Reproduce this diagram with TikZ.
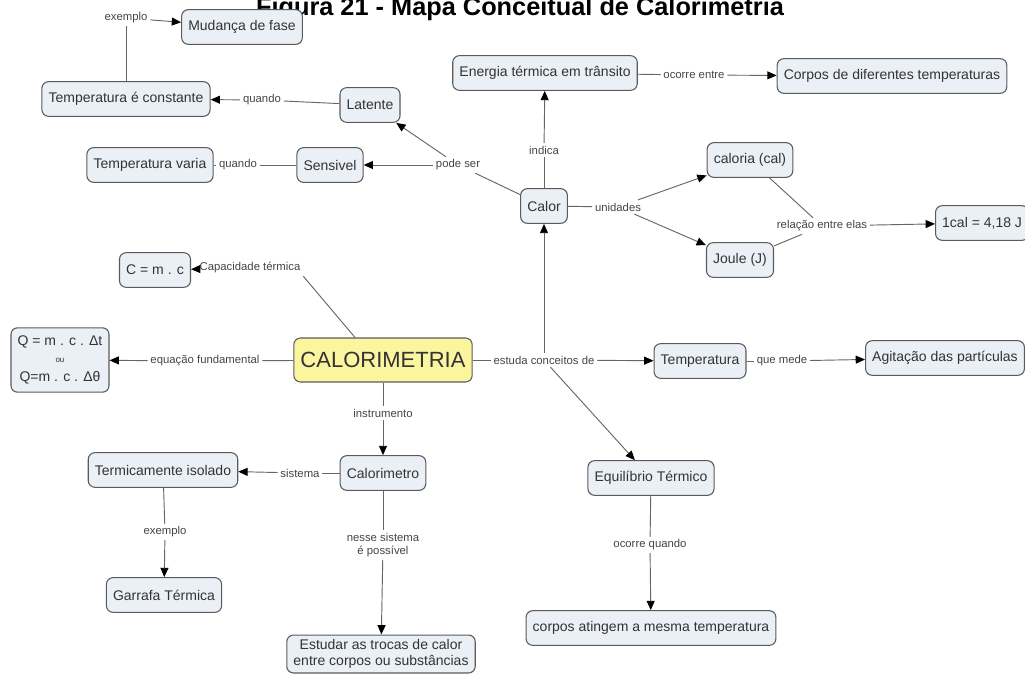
\documentclass[tikz,border=0pt]{standalone}
\usepackage{fontspec}
\setmainfont{Liberation Sans}
\usetikzlibrary{arrows.meta}

\begin{document}
\begin{tikzpicture}[x=0.75pt, y=-0.75pt,
    concept/.style={draw=borderColour, fill=fillColour, rounded corners=5pt, line width=0.8pt,
        font=\fontsize{10.5}{12}\selectfont, text=textColour, inner xsep=5pt, minimum height=26pt},
    linkword/.style={font=\fontsize{8.5}{10}\selectfont, text=linkColour, inner sep=2pt},
    link/.style={draw=lineColour, line width=0.7pt},
    linkarrow/.style={link, -{Triangle[length=7pt, width=6pt, color=black]}}]

    \definecolor{borderColour}{HTML}{5A5A5A}
    \definecolor{fillColour}{HTML}{EBF0F6}
    \definecolor{mainColour}{HTML}{FAF59E}
    \definecolor{textColour}{HTML}{333333}
    \definecolor{linkColour}{HTML}{444444}
    \definecolor{lineColour}{HTML}{666666}

    \useasboundingbox (0,0) rectangle (1025,678);

    % Title (cut at the top)
    \node[font=\bfseries\fontsize{19}{22}\selectfont, anchor=base, inner sep=0pt] (title) at (520,15) {Figura 21 - Mapa Conceitual de Calorimetria};

    % Concepts
    \node[concept] (mudanca) at (242,27) {Mudança de fase};
    \node[concept] (tconst) at (126,99) {Temperatura é constante};
    \node[concept] (latente) at (370,105) {Latente};
    \node[concept] (tvaria) at (150,165) {Temperatura varia};
    \node[concept] (sensivel) at (330,165) {Sensivel};
    \node[concept] (energia) at (545,73) {Energia térmica em trânsito};
    \node[concept] (corpos) at (892,76) {Corpos de diferentes temperaturas};
    \node[concept] (calor) at (544,206) {Calor};
    \node[concept] (caloria) at (750,160) {caloria (cal)};
    \node[concept] (joule) at (740,260) {Joule (J)};
    \node[concept, anchor=west] (relacao) at (935,223) {1cal = 4,18 J};
    \node[concept] (cmc) at (155,270) {C = m . c};
    \node[concept, fill=mainColour, font=\fontsize{16.5}{18}\selectfont, minimum height=33pt] (calorim) at (383,360) {CALORIMETRIA};
    \node[concept, align=center, inner ysep=6pt] (qbox) at (60,360) {Q = m . c . Δt\\[1pt]{\fontsize{6}{7}\selectfont ou}\\[2pt]Q=m . c . Δθ};
    \node[concept] (temp) at (700,361) {Temperatura};
    \node[concept] (agit) at (945,358) {Agitação das partículas};
    \node[concept] (equil) at (651,478) {Equilíbrio Térmico};
    \node[concept] (atingem) at (651,628) {corpos atingem a mesma temperatura};
    \node[concept] (calmetro) at (383,473) {Calorimetro};
    \node[concept] (termic) at (163,470) {Termicamente isolado};
    \node[concept] (garrafa) at (164,595) {Garrafa Térmica};
    \node[concept, align=center] (estudar) at (381,654) {Estudar as trocas de calor\\entre corpos ou substâncias};

    % Linking phrases
    \node[linkword] (lExemplo) at (126,18) {exemplo};
    \node[linkword] (lQuandoA) at (262,100) {quando};
    \node[linkword] (lQuandoB) at (238,165) {quando};
    \node[linkword] (lPode) at (458,165) {pode ser};
    \node[linkword] (lIndica) at (544,150) {indica};
    \node[linkword] (lOcorre) at (694,75) {ocorre entre};
    \node[linkword] (lUnid) at (618,207) {unidades};
    \node[linkword] (lRel) at (822,226) {relação entre elas};
    \node[linkword] (lCap) at (250,268) {Capacidade térmica};
    \node[linkword] (lEq) at (205,361) {equação fundamental};
    \node[linkword] (lEst) at (544,360) {estuda conceitos de};
    \node[linkword] (lMede) at (782,361) {que mede};
    \node[linkword] (lOcQ) at (650,545) {ocorre quando};
    \node[linkword] (lInst) at (383,413) {instrumento};
    \node[linkword] (lSist) at (300,473) {sistema};
    \node[linkword] (lEx2) at (165,532) {exemplo};
    \node[linkword, align=center] (lNesse) at (383,545) {nesse sistema\\é possível};

    % Connectors
    \draw[link] (tconst) -- (lExemplo);
    \draw[linkarrow] (lExemplo) -- (mudanca);
    \draw[link] (latente) -- (lQuandoA);
    \draw[linkarrow] (lQuandoA) -- (tconst);
    \draw[link] (sensivel) -- (lQuandoB);
    \draw[link] (lQuandoB) -- (tvaria);
    \draw[link] (calor) -- (lPode);
    \draw[linkarrow] (lPode) -- (sensivel);
    \draw[linkarrow] (lPode) -- (latente);
    \draw[link] (calor) -- (lIndica);
    \draw[linkarrow] (lIndica) -- (energia);
    \draw[link] (energia) -- (lOcorre);
    \draw[linkarrow] (lOcorre) -- (corpos);
    \draw[link] (calor) -- (lUnid);
    \draw[linkarrow] (lUnid) -- (caloria);
    \draw[linkarrow] (lUnid) -- (joule);
    \draw[link] (caloria) -- (lRel);
    \draw[link] (joule) -- (lRel);
    \draw[linkarrow] (lRel) -- (relacao);
    \draw[link] ([xshift=-21pt]calorim.north) -- (lCap.south east);
    \draw[linkarrow] (lCap) -- (cmc);
    \draw[link] (calorim) -- (lEq);
    \draw[linkarrow] (lEq) -- (qbox);
    \draw[link] (calorim) -- (lEst);
    \draw[linkarrow] (lEst) -- (temp);
    \draw[linkarrow] (lEst) -- (calor);
    \draw[linkarrow] (lEst) -- (equil);
    \draw[link] (temp) -- (lMede);
    \draw[linkarrow] (lMede) -- (agit);
    \draw[link] (equil) -- (lOcQ);
    \draw[linkarrow] (lOcQ) -- (atingem);
    \draw[link] (calorim) -- (lInst);
    \draw[linkarrow] (lInst) -- (calmetro);
    \draw[link] (calmetro) -- (lSist);
    \draw[linkarrow] (lSist) -- (termic);
    \draw[link] (termic) -- (lEx2);
    \draw[linkarrow] (lEx2) -- (garrafa);
    \draw[link] (calmetro) -- (lNesse);
    \draw[linkarrow] (lNesse) -- (estudar);

\end{tikzpicture}
\end{document}
